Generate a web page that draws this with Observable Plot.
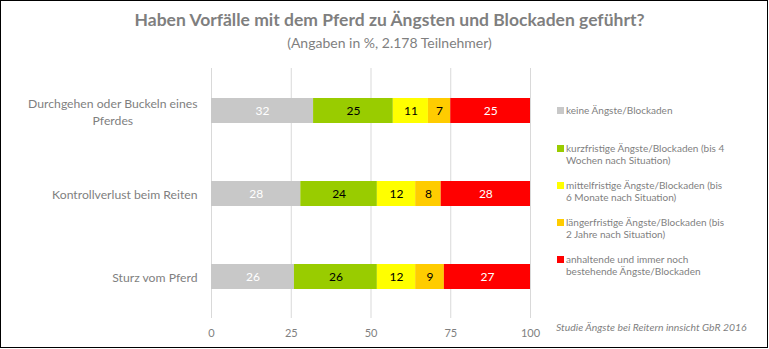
<!DOCTYPE html>
<html>
<head>
<meta charset="utf-8">
<script src="https://cdn.jsdelivr.net/npm/d3@7"></script>
<script src="https://cdn.jsdelivr.net/npm/@observablehq/plot@0.6"></script>
<style>
  body { margin: 0; background: #fff; }
  #wrap { position: relative; width: 769px; height: 349px; font-family: Lato, "Open Sans", sans-serif; overflow: hidden; }
  #border { position: absolute; left: 0; top: 0; width: 766px; height: 346px; border: 1px solid #000; pointer-events: none; }
  .title { position: absolute; left: 5px; width: 769px; text-align: center; color: #7f7f7f; white-space: nowrap; }
  #t1 { top: 9px; font-size: 17.5px; line-height: 21px; font-weight: bold; }
  #t2 { top: 35px; font-size: 14px; line-height: 16px; }
  #legend { position: absolute; left: 557px; top: 0; }
  .li { position: absolute; left: 0; width: 210px; font-size: 10px; line-height: 12.5px; color: #7f7f7f; white-space: nowrap; }
  .sw { position: absolute; left: 0; top: 3px; width: 7px; height: 7px; }
  .lt { position: absolute; left: 9px; top: 0; }
  #caption { position: absolute; left: 556px; top: 321px; font-size: 10.4px; line-height: 12.5px; font-style: italic; color: #7f7f7f; white-space: nowrap; }
  #chart { position: absolute; left: 0; top: 0; }
</style>
</head>
<body>
<div id="wrap">
  <div id="chart"></div>
  <div class="title" id="t1"></div>
  <div class="title" id="t2"></div>
  <div id="legend"></div>
  <div id="caption"></div>
  <div id="border"></div>
</div>
<script>
// ---- data ----
const titleText = "Haben Vorfälle mit dem Pferd zu Ängsten und Blockaden geführt?";
const subtitleText = "(Angaben in %, 2.178 Teilnehmer)";
const captionText = "Studie Ängste bei Reitern innsicht GbR 2016";
const categories = ["Durchgehen oder Buckeln eines Pferdes", "Kontrollverlust beim Reiten", "Sturz vom Pferd"];
const categoryLabels = ["Durchgehen oder Buckeln eines\nPferdes", "Kontrollverlust beim Reiten", "Sturz vom Pferd"];
const seriesNames = [
  "keine Ängste/Blockaden",
  "kurzfristige Ängste/Blockaden (bis 4 Wochen nach Situation)",
  "mittelfristige Ängste/Blockaden (bis 6 Monate nach Situation)",
  "längerfristige Ängste/Blockaden (bis 2 Jahre nach Situation)",
  "anhaltende und immer noch bestehende Ängste/Blockaden"
];
const legendLines = [
  ["keine Ängste/Blockaden"],
  ["kurzfristige Ängste/Blockaden (bis 4", "Wochen nach Situation)"],
  ["mittelfristige Ängste/Blockaden (bis", "6 Monate nach Situation)"],
  ["längerfristige Ängste/Blockaden (bis", "2 Jahre nach Situation)"],
  ["anhaltende und immer noch", "bestehende Ängste/Blockaden"]
];
const keine = [32, 28, 26];
const kurzfristig = [25, 24, 26];
const mittelfristig = [11, 12, 12];
const laengerfristig = [7, 8, 9];
const anhaltend = [25, 28, 27];
const seriesColors = ["#c8c8c8", "#99cc00", "#ffff00", "#ffcc00", "#ff0000"];
const labelColors = ["#ffffff", "#000000", "#000000", "#000000", "#ffffff"];
const xTicks = [0, 25, 50, 75, 100];

// ---- table ----
const seriesValues = [keine, kurzfristig, mittelfristig, laengerfristig, anhaltend];
const rows = [];
categories.forEach((c, ci) => {
  seriesNames.forEach((s, si) => {
    rows.push({category: c, series: s, value: seriesValues[si][ci], labelColor: labelColors[si]});
  });
});
const labelOf = new Map(categories.map((c, i) => [c, categoryLabels[i]]));

const valueLabels = (color) => Plot.text(rows, Plot.stackX({
  x: "value", y: "category", z: "series", order: seriesNames,
  text: d => d.labelColor === color ? String(d.value) : "",
  fill: color, fontSize: 12
}));

const plot = Plot.plot({
  width: 769,
  height: 349,
  marginLeft: 211,
  marginRight: 239,
  marginTop: 68,
  marginBottom: 31,
  style: {fontFamily: "Lato, 'Open Sans', sans-serif", color: "#7f7f7f", background: "transparent"},
  x: {domain: [0, 100], ticks: xTicks},
  y: {domain: categories, paddingInner: 0.7, paddingOuter: 0.35},
  color: {domain: seriesNames, range: seriesColors},
  marks: [
    Plot.gridX(xTicks, {stroke: "#d9d9d9", strokeOpacity: 1, strokeWidth: 1}),
    Plot.barX(rows, Plot.stackX({x: "value", y: "category", fill: "series", order: seriesNames})),
    valueLabels("#ffffff"),
    valueLabels("#000000"),
    Plot.axisX({ticks: xTicks, tickSize: 0, tickPadding: 11, fontSize: 11, label: null}),
    Plot.axisY({tickSize: 0, tickPadding: 14, fontSize: 12.2, lineHeight: 1.35, label: null, tickFormat: d => labelOf.get(d)})
  ]
});
document.getElementById("chart").appendChild(plot);

// center multi-line category labels like the original
plot.querySelectorAll("text").forEach(t => {
  const spans = t.querySelectorAll("tspan");
  if (spans.length > 1) {
    const w = t.getBBox().width;
    t.setAttribute("text-anchor", "middle");
    spans.forEach(s => s.setAttribute("x", String(-w / 2)));
  }
});

document.getElementById("t1").textContent = titleText;
document.getElementById("t2").textContent = subtitleText;
document.getElementById("caption").textContent = captionText;

const legendTops = [104, 141.5, 178.5, 215.5, 252.5];
const legend = document.getElementById("legend");
legendLines.forEach((lines, i) => {
  const item = document.createElement("div");
  item.className = "li";
  item.style.top = legendTops[i] + "px";
  const sw = document.createElement("div");
  sw.className = "sw";
  sw.style.background = seriesColors[i];
  const lt = document.createElement("div");
  lt.className = "lt";
  lines.forEach((l, j) => {
    if (j) lt.appendChild(document.createElement("br"));
    lt.appendChild(document.createTextNode(l));
  });
  item.appendChild(sw);
  item.appendChild(lt);
  legend.appendChild(item);
});
</script>
</body>
</html>
